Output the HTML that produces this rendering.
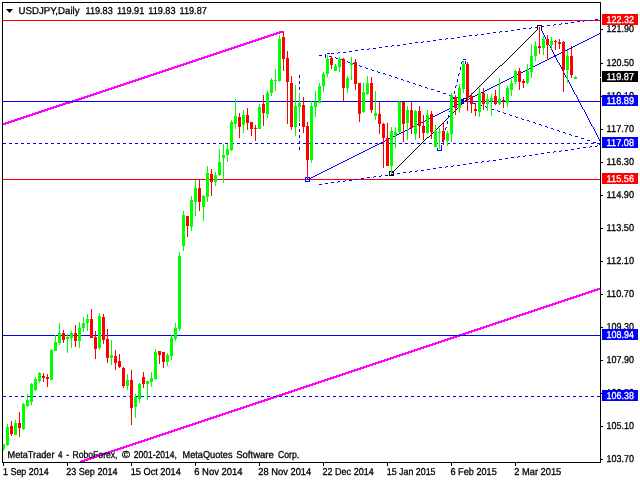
<!DOCTYPE html>
<html><head><meta charset="utf-8"><title>USDJPY,Daily</title>
<style>html,body{margin:0;padding:0;background:#fff;}body{width:640px;height:480px;overflow:hidden;}svg{display:block}text{font-family:"Liberation Sans",sans-serif;font-size:10px;fill:#000;stroke-width:0.3px;text-rendering:geometricPrecision}</style>
</head><body>
<svg width="640" height="480" viewBox="0 0 640 480" shape-rendering="crispEdges">
<rect width="640" height="480" fill="#fff"/>
<defs><clipPath id="c"><rect x="3" y="3" width="597" height="459"/></clipPath></defs>
<g clip-path="url(#c)">
<path fill="#ff00ff" d="M279 31h5v1h-5zM276 32h8v1h-8zM273 33h7v1h-7zM270 34h7v1h-7zM267 35h7v1h-7zM264 36h7v1h-7zM261 37h7v1h-7zM258 38h7v1h-7zM255 39h7v1h-7zM252 40h7v1h-7zM249 41h7v1h-7zM246 42h7v1h-7zM243 43h7v1h-7zM240 44h7v1h-7zM237 45h7v1h-7zM234 46h7v1h-7zM231 47h7v1h-7zM228 48h7v1h-7zM225 49h7v1h-7zM222 50h7v1h-7zM219 51h7v1h-7zM216 52h7v1h-7zM213 53h7v1h-7zM210 54h7v1h-7zM207 55h7v1h-7zM204 56h7v1h-7zM201 57h7v1h-7zM198 58h7v1h-7zM195 59h7v1h-7zM192 60h7v1h-7zM189 61h7v1h-7zM186 62h7v1h-7zM183 63h7v1h-7zM180 64h7v1h-7zM177 65h7v1h-7zM174 66h7v1h-7zM171 67h7v1h-7zM168 68h7v1h-7zM165 69h7v1h-7zM162 70h7v1h-7zM159 71h7v1h-7zM156 72h7v1h-7zM153 73h7v1h-7zM150 74h7v1h-7zM147 75h7v1h-7zM144 76h7v1h-7zM141 77h7v1h-7zM138 78h7v1h-7zM135 79h7v1h-7zM132 80h7v1h-7zM129 81h7v1h-7zM126 82h7v1h-7zM123 83h7v1h-7zM120 84h7v1h-7zM117 85h7v1h-7zM114 86h7v1h-7zM111 87h7v1h-7zM108 88h7v1h-7zM105 89h7v1h-7zM102 90h7v1h-7zM99 91h7v1h-7zM96 92h7v1h-7zM93 93h7v1h-7zM90 94h7v1h-7zM87 95h7v1h-7zM84 96h7v1h-7zM81 97h7v1h-7zM78 98h7v1h-7zM75 99h7v1h-7zM72 100h7v1h-7zM69 101h7v1h-7zM65 102h8v1h-8zM62 103h8v1h-8zM59 104h7v1h-7zM56 105h7v1h-7zM53 106h7v1h-7zM50 107h7v1h-7zM47 108h7v1h-7zM44 109h7v1h-7zM41 110h7v1h-7zM38 111h7v1h-7zM35 112h7v1h-7zM32 113h7v1h-7zM29 114h7v1h-7zM26 115h7v1h-7zM23 116h7v1h-7zM20 117h7v1h-7zM17 118h7v1h-7zM14 119h7v1h-7zM11 120h7v1h-7zM8 121h7v1h-7zM5 122h7v1h-7zM2 123h7v1h-7zM2 124h4v1h-4z"/>
<path fill="#ff00ff" d="M597 288h4v1h-4zM594 289h7v1h-7zM591 290h7v1h-7zM588 291h7v1h-7zM585 292h7v1h-7zM582 293h7v1h-7zM579 294h7v1h-7zM576 295h7v1h-7zM573 296h7v1h-7zM570 297h7v1h-7zM567 298h7v1h-7zM564 299h7v1h-7zM561 300h7v1h-7zM558 301h7v1h-7zM555 302h7v1h-7zM552 303h7v1h-7zM549 304h7v1h-7zM546 305h7v1h-7zM543 306h7v1h-7zM540 307h7v1h-7zM537 308h7v1h-7zM534 309h7v1h-7zM531 310h7v1h-7zM528 311h7v1h-7zM525 312h7v1h-7zM522 313h7v1h-7zM519 314h7v1h-7zM516 315h7v1h-7zM513 316h7v1h-7zM510 317h7v1h-7zM507 318h7v1h-7zM504 319h7v1h-7zM501 320h7v1h-7zM498 321h7v1h-7zM495 322h7v1h-7zM492 323h7v1h-7zM489 324h7v1h-7zM486 325h7v1h-7zM483 326h7v1h-7zM480 327h7v1h-7zM477 328h7v1h-7zM474 329h7v1h-7zM471 330h7v1h-7zM468 331h7v1h-7zM465 332h7v1h-7zM462 333h7v1h-7zM459 334h7v1h-7zM456 335h7v1h-7zM453 336h7v1h-7zM450 337h7v1h-7zM447 338h7v1h-7zM444 339h7v1h-7zM441 340h7v1h-7zM438 341h7v1h-7zM435 342h7v1h-7zM432 343h7v1h-7zM429 344h7v1h-7zM426 345h7v1h-7zM423 346h7v1h-7zM420 347h7v1h-7zM417 348h7v1h-7zM414 349h7v1h-7zM411 350h7v1h-7zM408 351h7v1h-7zM405 352h7v1h-7zM402 353h7v1h-7zM399 354h7v1h-7zM396 355h7v1h-7zM393 356h7v1h-7zM390 357h7v1h-7zM387 358h7v1h-7zM384 359h7v1h-7zM381 360h7v1h-7zM378 361h7v1h-7zM375 362h7v1h-7zM372 363h7v1h-7zM369 364h7v1h-7zM366 365h7v1h-7zM363 366h7v1h-7zM360 367h7v1h-7zM357 368h7v1h-7zM354 369h7v1h-7zM351 370h7v1h-7zM348 371h7v1h-7zM345 372h7v1h-7zM342 373h7v1h-7zM339 374h7v1h-7zM336 375h7v1h-7zM333 376h7v1h-7zM330 377h7v1h-7zM327 378h7v1h-7zM324 379h7v1h-7zM321 380h7v1h-7zM318 381h7v1h-7zM315 382h7v1h-7zM312 383h7v1h-7zM309 384h7v1h-7zM306 385h7v1h-7zM303 386h7v1h-7zM300 387h7v1h-7zM297 388h7v1h-7zM294 389h7v1h-7zM291 390h7v1h-7zM288 391h7v1h-7zM285 392h7v1h-7zM282 393h7v1h-7zM279 394h7v1h-7zM276 395h7v1h-7zM273 396h7v1h-7zM270 397h7v1h-7zM267 398h7v1h-7zM264 399h7v1h-7zM261 400h7v1h-7zM258 401h7v1h-7zM255 402h7v1h-7zM252 403h7v1h-7zM249 404h7v1h-7zM246 405h7v1h-7zM243 406h7v1h-7zM240 407h7v1h-7zM237 408h7v1h-7zM234 409h7v1h-7zM231 410h7v1h-7zM228 411h7v1h-7zM225 412h7v1h-7zM222 413h7v1h-7zM219 414h7v1h-7zM216 415h7v1h-7zM213 416h7v1h-7zM210 417h7v1h-7zM207 418h7v1h-7zM204 419h7v1h-7zM201 420h7v1h-7zM198 421h7v1h-7zM195 422h7v1h-7zM192 423h7v1h-7zM189 424h7v1h-7zM186 425h7v1h-7zM183 426h7v1h-7zM180 427h7v1h-7zM177 428h7v1h-7zM174 429h7v1h-7zM171 430h7v1h-7zM168 431h7v1h-7zM165 432h7v1h-7zM162 433h7v1h-7zM159 434h7v1h-7zM156 435h7v1h-7zM153 436h7v1h-7zM150 437h7v1h-7zM147 438h7v1h-7zM144 439h7v1h-7zM141 440h7v1h-7zM138 441h7v1h-7zM135 442h7v1h-7zM132 443h7v1h-7zM129 444h7v1h-7zM126 445h7v1h-7zM123 446h7v1h-7zM120 447h7v1h-7zM117 448h7v1h-7zM114 449h7v1h-7zM111 450h7v1h-7zM108 451h7v1h-7zM105 452h7v1h-7zM102 453h7v1h-7zM99 454h7v1h-7zM96 455h7v1h-7zM93 456h7v1h-7zM90 457h7v1h-7zM87 458h7v1h-7zM84 459h7v1h-7zM81 460h7v1h-7zM80 461h5v1h-5zM80 462h2v1h-2z"/>
<path fill="#0000ff" d="M461 100h2v1h-2zM461 101h3v1h-3zM461 102h3v1h-3zM461 103h3v1h-3z"/>
<path fill="#000" d="M537 29h1v1h-1zM536 30h1v1h-1zM535 31h1v1h-1zM534 32h1v1h-1zM533 33h1v1h-1zM532 34h1v1h-1zM531 35h1v1h-1zM530 36h1v1h-1zM529 37h1v1h-1zM528 38h1v1h-1zM527 39h1v1h-1zM526 40h1v1h-1zM525 41h1v1h-1zM524 42h1v1h-1zM523 43h1v1h-1zM522 44h1v1h-1zM521 45h1v1h-1zM520 46h1v1h-1zM519 47h1v1h-1zM518 48h1v1h-1zM517 49h1v1h-1zM516 50h1v1h-1zM515 51h1v1h-1zM514 52h1v1h-1zM513 53h1v1h-1zM512 54h1v1h-1zM511 55h1v1h-1zM510 56h1v1h-1zM509 57h1v1h-1zM508 58h1v1h-1zM507 59h1v1h-1zM506 60h1v1h-1zM505 61h1v1h-1zM504 62h1v1h-1zM503 63h1v1h-1zM502 64h1v1h-1zM500 65h2v1h-2zM499 66h1v1h-1zM498 67h1v1h-1zM497 68h1v1h-1zM496 69h1v1h-1zM495 70h1v1h-1zM494 71h1v1h-1zM493 72h1v1h-1zM492 73h1v1h-1zM491 74h1v1h-1zM490 75h1v1h-1zM489 76h1v1h-1zM488 77h1v1h-1zM487 78h1v1h-1zM486 79h1v1h-1zM485 80h1v1h-1zM484 81h1v1h-1zM483 82h1v1h-1zM482 83h1v1h-1zM481 84h1v1h-1zM480 85h1v1h-1zM479 86h1v1h-1zM478 87h1v1h-1zM477 88h1v1h-1zM476 89h1v1h-1zM475 90h1v1h-1zM474 91h1v1h-1zM473 92h1v1h-1zM472 93h1v1h-1zM471 94h1v1h-1zM470 95h1v1h-1zM469 96h1v1h-1zM468 97h1v1h-1zM467 98h1v1h-1zM466 99h1v1h-1zM465 100h1v1h-1zM464 101h1v1h-1zM463 102h1v1h-1zM462 103h1v1h-1zM461 104h1v1h-1zM460 105h1v1h-1zM459 106h1v1h-1zM458 107h1v1h-1zM457 108h1v1h-1zM456 109h1v1h-1zM455 110h1v1h-1zM454 111h1v1h-1zM453 112h1v1h-1zM452 113h1v1h-1zM451 114h1v1h-1zM450 115h1v1h-1zM449 116h1v1h-1zM448 117h1v1h-1zM447 118h1v1h-1zM446 119h1v1h-1zM445 120h1v1h-1zM444 121h1v1h-1zM443 122h1v1h-1zM442 123h1v1h-1zM441 124h1v1h-1zM440 125h1v1h-1zM439 126h1v1h-1zM438 127h1v1h-1zM437 128h1v1h-1zM436 129h1v1h-1zM435 130h1v1h-1zM434 131h1v1h-1zM433 132h1v1h-1zM432 133h1v1h-1zM431 134h1v1h-1zM430 135h1v1h-1zM429 136h1v1h-1zM427 137h2v1h-2zM426 138h1v1h-1zM425 139h1v1h-1zM424 140h1v1h-1zM423 141h1v1h-1zM422 142h1v1h-1zM421 143h1v1h-1zM420 144h1v1h-1zM419 145h1v1h-1zM418 146h1v1h-1zM417 147h1v1h-1zM416 148h1v1h-1zM415 149h1v1h-1zM414 150h1v1h-1zM413 151h1v1h-1zM412 152h1v1h-1zM411 153h1v1h-1zM410 154h1v1h-1zM409 155h1v1h-1zM408 156h1v1h-1zM407 157h1v1h-1zM406 158h1v1h-1zM405 159h1v1h-1zM404 160h1v1h-1zM403 161h1v1h-1zM402 162h1v1h-1zM401 163h1v1h-1zM400 164h1v1h-1zM399 165h1v1h-1zM398 166h1v1h-1zM397 167h1v1h-1zM396 168h1v1h-1zM395 169h1v1h-1zM394 170h1v1h-1zM393 171h1v1h-1zM392 172h1v1h-1zM391 173h1v1h-1z"/>
<path fill="#000" d="M389 171h5v1h-5zM389 172h1v1h-1zM393 172h1v1h-1zM389 173h1v1h-1zM393 173h1v1h-1zM389 174h1v1h-1zM393 174h1v1h-1zM389 175h5v1h-5z"/>
<path fill="#000" d="M463 98h5v1h-5zM463 99h1v1h-1zM467 99h1v1h-1zM463 100h1v1h-1zM467 100h1v1h-1z"/>
<path fill="#000" d="M537 25h5v1h-5zM537 26h1v1h-1zM541 26h1v1h-1zM537 27h1v1h-1zM541 27h1v1h-1zM537 28h1v1h-1zM541 28h1v1h-1zM537 29h1v1h-1zM541 29h1v1h-1z"/>
<rect x="3" y="20" width="597" height="1" fill="#ff0000"/>
<rect x="3" y="179" width="597" height="1" fill="#ff0000"/>
<rect x="3" y="101" width="597" height="1" fill="#0000ff"/>
<rect x="3" y="335" width="597" height="1" fill="#0000ff"/>
<path fill="#0000ff" d="M3 143h3v1h-3zM9 143h3v1h-3zM15 143h3v1h-3zM21 143h3v1h-3zM27 143h3v1h-3zM33 143h3v1h-3zM39 143h3v1h-3zM45 143h3v1h-3zM51 143h3v1h-3zM57 143h3v1h-3zM63 143h3v1h-3zM69 143h3v1h-3zM75 143h3v1h-3zM81 143h3v1h-3zM87 143h3v1h-3zM93 143h3v1h-3zM99 143h3v1h-3zM105 143h3v1h-3zM111 143h3v1h-3zM117 143h3v1h-3zM123 143h3v1h-3zM129 143h3v1h-3zM135 143h3v1h-3zM141 143h3v1h-3zM147 143h3v1h-3zM153 143h3v1h-3zM159 143h3v1h-3zM165 143h3v1h-3zM171 143h3v1h-3zM177 143h3v1h-3zM183 143h3v1h-3zM189 143h3v1h-3zM195 143h3v1h-3zM201 143h3v1h-3zM207 143h3v1h-3zM213 143h3v1h-3zM219 143h3v1h-3zM225 143h3v1h-3zM231 143h3v1h-3zM237 143h3v1h-3zM243 143h3v1h-3zM249 143h3v1h-3zM255 143h3v1h-3zM261 143h3v1h-3zM267 143h3v1h-3zM273 143h3v1h-3zM279 143h3v1h-3zM285 143h3v1h-3zM291 143h3v1h-3zM297 143h3v1h-3zM303 143h3v1h-3zM309 143h3v1h-3zM315 143h3v1h-3zM321 143h3v1h-3zM327 143h3v1h-3zM333 143h3v1h-3zM339 143h3v1h-3zM345 143h3v1h-3zM351 143h3v1h-3zM357 143h3v1h-3zM363 143h3v1h-3zM369 143h3v1h-3zM375 143h3v1h-3zM381 143h3v1h-3zM387 143h3v1h-3zM393 143h3v1h-3zM399 143h3v1h-3zM405 143h3v1h-3zM411 143h3v1h-3zM417 143h3v1h-3zM423 143h3v1h-3zM429 143h3v1h-3zM435 143h3v1h-3zM441 143h3v1h-3zM447 143h3v1h-3zM453 143h3v1h-3zM459 143h3v1h-3zM465 143h3v1h-3zM471 143h3v1h-3zM477 143h3v1h-3zM483 143h3v1h-3zM489 143h3v1h-3zM495 143h3v1h-3zM501 143h3v1h-3zM507 143h3v1h-3zM513 143h3v1h-3zM519 143h3v1h-3zM525 143h3v1h-3zM531 143h3v1h-3zM537 143h3v1h-3zM543 143h3v1h-3zM549 143h3v1h-3zM555 143h3v1h-3zM561 143h3v1h-3zM567 143h3v1h-3zM573 143h3v1h-3zM579 143h3v1h-3zM585 143h3v1h-3zM591 143h3v1h-3zM597 143h3v1h-3z"/>
<path fill="#0000ff" d="M3 396h3v1h-3zM9 396h3v1h-3zM15 396h3v1h-3zM21 396h3v1h-3zM27 396h3v1h-3zM33 396h3v1h-3zM39 396h3v1h-3zM45 396h3v1h-3zM51 396h3v1h-3zM57 396h3v1h-3zM63 396h3v1h-3zM69 396h3v1h-3zM75 396h3v1h-3zM81 396h3v1h-3zM87 396h3v1h-3zM93 396h3v1h-3zM99 396h3v1h-3zM105 396h3v1h-3zM111 396h3v1h-3zM117 396h3v1h-3zM123 396h3v1h-3zM129 396h3v1h-3zM135 396h3v1h-3zM141 396h3v1h-3zM147 396h3v1h-3zM153 396h3v1h-3zM159 396h3v1h-3zM165 396h3v1h-3zM171 396h3v1h-3zM177 396h3v1h-3zM183 396h3v1h-3zM189 396h3v1h-3zM195 396h3v1h-3zM201 396h3v1h-3zM207 396h3v1h-3zM213 396h3v1h-3zM219 396h3v1h-3zM225 396h3v1h-3zM231 396h3v1h-3zM237 396h3v1h-3zM243 396h3v1h-3zM249 396h3v1h-3zM255 396h3v1h-3zM261 396h3v1h-3zM267 396h3v1h-3zM273 396h3v1h-3zM279 396h3v1h-3zM285 396h3v1h-3zM291 396h3v1h-3zM297 396h3v1h-3zM303 396h3v1h-3zM309 396h3v1h-3zM315 396h3v1h-3zM321 396h3v1h-3zM327 396h3v1h-3zM333 396h3v1h-3zM339 396h3v1h-3zM345 396h3v1h-3zM351 396h3v1h-3zM357 396h3v1h-3zM363 396h3v1h-3zM369 396h3v1h-3zM375 396h3v1h-3zM381 396h3v1h-3zM387 396h3v1h-3zM393 396h3v1h-3zM399 396h3v1h-3zM405 396h3v1h-3zM411 396h3v1h-3zM417 396h3v1h-3zM423 396h3v1h-3zM429 396h3v1h-3zM435 396h3v1h-3zM441 396h3v1h-3zM447 396h3v1h-3zM453 396h3v1h-3zM459 396h3v1h-3zM465 396h3v1h-3zM471 396h3v1h-3zM477 396h3v1h-3zM483 396h3v1h-3zM489 396h3v1h-3zM495 396h3v1h-3zM501 396h3v1h-3zM507 396h3v1h-3zM513 396h3v1h-3zM519 396h3v1h-3zM525 396h3v1h-3zM531 396h3v1h-3zM537 396h3v1h-3zM543 396h3v1h-3zM549 396h3v1h-3zM555 396h3v1h-3zM561 396h3v1h-3zM567 396h3v1h-3zM573 396h3v1h-3zM579 396h3v1h-3zM585 396h3v1h-3zM591 396h3v1h-3zM597 396h3v1h-3z"/>
<path fill="#0000ff" d="M599 33h2v1h-2zM597 34h2v1h-2zM595 35h2v1h-2zM593 36h2v1h-2zM591 37h2v1h-2zM589 38h2v1h-2zM587 39h2v1h-2zM585 40h2v1h-2zM583 41h2v1h-2zM581 42h2v1h-2zM579 43h2v1h-2zM577 44h2v1h-2zM575 45h2v1h-2zM573 46h2v1h-2zM571 47h2v1h-2zM569 48h2v1h-2zM567 49h2v1h-2zM565 50h2v1h-2zM563 51h2v1h-2zM561 52h2v1h-2zM559 53h2v1h-2zM557 54h2v1h-2zM555 55h2v1h-2zM553 56h2v1h-2zM551 57h2v1h-2zM549 58h2v1h-2zM547 59h2v1h-2zM545 60h2v1h-2zM543 61h2v1h-2zM541 62h2v1h-2zM539 63h2v1h-2zM537 64h2v1h-2zM535 65h2v1h-2zM533 66h2v1h-2zM531 67h2v1h-2zM529 68h2v1h-2zM527 69h2v1h-2zM525 70h2v1h-2zM523 71h2v1h-2zM521 72h2v1h-2zM519 73h2v1h-2zM517 74h2v1h-2zM515 75h2v1h-2zM513 76h2v1h-2zM511 77h2v1h-2zM509 78h2v1h-2zM507 79h2v1h-2zM505 80h2v1h-2zM503 81h2v1h-2zM501 82h2v1h-2zM499 83h2v1h-2zM497 84h2v1h-2zM495 85h2v1h-2zM493 86h2v1h-2zM491 87h2v1h-2zM489 88h2v1h-2zM487 89h2v1h-2zM485 90h2v1h-2zM483 91h2v1h-2zM481 92h2v1h-2zM479 93h2v1h-2zM477 94h2v1h-2zM475 95h2v1h-2zM473 96h2v1h-2zM471 97h2v1h-2zM469 98h2v1h-2zM467 99h2v1h-2zM465 100h2v1h-2zM463 101h2v1h-2zM461 102h2v1h-2zM459 103h2v1h-2zM457 104h2v1h-2zM455 105h2v1h-2zM453 106h2v1h-2zM451 107h2v1h-2zM449 108h2v1h-2zM447 109h2v1h-2zM445 110h2v1h-2zM443 111h2v1h-2zM441 112h2v1h-2zM439 113h2v1h-2zM437 114h2v1h-2zM435 115h2v1h-2zM433 116h2v1h-2zM431 117h2v1h-2zM429 118h2v1h-2zM427 119h2v1h-2zM425 120h2v1h-2zM423 121h2v1h-2zM421 122h2v1h-2zM419 123h2v1h-2zM417 124h2v1h-2zM415 125h2v1h-2zM413 126h2v1h-2zM411 127h2v1h-2zM409 128h2v1h-2zM407 129h2v1h-2zM405 130h2v1h-2zM403 131h2v1h-2zM401 132h2v1h-2zM399 133h2v1h-2zM397 134h2v1h-2zM395 135h2v1h-2zM393 136h2v1h-2zM391 137h2v1h-2zM389 138h2v1h-2zM387 139h2v1h-2zM385 140h2v1h-2zM383 141h2v1h-2zM381 142h2v1h-2zM379 143h2v1h-2zM377 144h2v1h-2zM375 145h2v1h-2zM373 146h2v1h-2zM371 147h2v1h-2zM369 148h2v1h-2zM367 149h2v1h-2zM365 150h2v1h-2zM363 151h2v1h-2zM361 152h2v1h-2zM359 153h2v1h-2zM357 154h2v1h-2zM355 155h2v1h-2zM353 156h2v1h-2zM351 157h2v1h-2zM349 158h2v1h-2zM347 159h2v1h-2zM345 160h2v1h-2zM343 161h2v1h-2zM341 162h2v1h-2zM339 163h2v1h-2zM337 164h2v1h-2zM335 165h2v1h-2zM333 166h2v1h-2zM331 167h2v1h-2zM329 168h2v1h-2zM327 169h2v1h-2zM325 170h2v1h-2zM323 171h2v1h-2zM321 172h2v1h-2zM319 173h2v1h-2zM317 174h2v1h-2zM315 175h2v1h-2zM313 176h2v1h-2zM311 177h2v1h-2zM309 178h2v1h-2zM307 179h2v1h-2z"/>
<path fill="#0000ff" d="M305 177h5v1h-5zM305 178h1v1h-1zM309 178h1v1h-1zM305 179h1v1h-1zM309 179h1v1h-1zM305 180h1v1h-1zM309 180h1v1h-1zM305 181h5v1h-5z"/>
<path fill="#0000ff" d="M541 30h1v1h-1zM542 31h1v1h-1zM542 32h1v1h-1zM543 33h1v1h-1zM543 34h1v1h-1zM544 35h1v1h-1zM544 36h1v1h-1zM545 37h1v1h-1zM545 38h1v1h-1zM546 39h1v1h-1zM546 40h1v1h-1zM547 41h1v1h-1zM547 42h1v1h-1zM548 43h1v1h-1zM548 44h1v1h-1zM549 45h1v1h-1zM550 46h1v1h-1zM550 47h1v1h-1zM551 48h1v1h-1zM551 49h1v1h-1zM552 50h1v1h-1zM552 51h1v1h-1zM553 52h1v1h-1zM553 53h1v1h-1zM554 54h1v1h-1zM554 55h1v1h-1zM555 56h1v1h-1zM555 57h1v1h-1zM556 58h1v1h-1zM556 59h1v1h-1zM557 60h1v1h-1zM557 61h1v1h-1zM558 62h1v1h-1zM559 63h1v1h-1zM559 64h1v1h-1zM560 65h1v1h-1zM560 66h1v1h-1zM561 67h1v1h-1zM561 68h1v1h-1zM562 69h1v1h-1zM562 70h1v1h-1zM563 71h1v1h-1zM563 72h1v1h-1zM564 73h1v1h-1zM564 74h1v1h-1zM565 75h1v1h-1zM565 76h1v1h-1zM566 77h1v1h-1zM567 78h1v1h-1zM567 79h1v1h-1zM568 80h1v1h-1zM568 81h1v1h-1zM569 82h1v1h-1zM569 83h1v1h-1zM570 84h1v1h-1zM570 85h1v1h-1zM571 86h1v1h-1zM571 87h1v1h-1zM572 88h1v1h-1zM572 89h1v1h-1zM573 90h1v1h-1zM573 91h1v1h-1zM574 92h1v1h-1zM574 93h1v1h-1zM575 94h1v1h-1zM576 95h1v1h-1zM576 96h1v1h-1zM577 97h1v1h-1zM577 98h1v1h-1zM578 99h1v1h-1zM578 100h1v1h-1zM579 101h1v1h-1zM579 102h1v1h-1zM580 103h1v1h-1zM580 104h1v1h-1zM581 105h1v1h-1zM581 106h1v1h-1zM582 107h1v1h-1zM582 108h1v1h-1zM583 109h1v1h-1zM584 110h1v1h-1zM584 111h1v1h-1zM585 112h1v1h-1zM585 113h1v1h-1zM586 114h1v1h-1zM586 115h1v1h-1zM587 116h1v1h-1zM587 117h1v1h-1zM588 118h1v1h-1zM588 119h1v1h-1zM589 120h1v1h-1zM589 121h1v1h-1zM590 122h1v1h-1zM590 123h1v1h-1zM591 124h1v1h-1zM591 125h1v1h-1zM592 126h1v1h-1zM593 127h1v1h-1zM593 128h1v1h-1zM594 129h1v1h-1zM594 130h1v1h-1zM595 131h1v1h-1zM595 132h1v1h-1zM596 133h1v1h-1zM596 134h1v1h-1zM597 135h1v1h-1zM597 136h1v1h-1zM598 137h1v1h-1zM598 138h1v1h-1zM599 139h1v1h-1zM599 140h1v1h-1zM600 141h1v1h-1z"/>
<path fill="#0000ff" d="M595 19h3v1h-3zM584 20h2v1h-2zM589 20h3v1h-3zM577 21h3v1h-3zM583 21h1v1h-1zM571 22h3v1h-3zM561 23h1v1h-1zM565 23h3v1h-3zM554 24h2v1h-2zM559 24h2v1h-2zM547 25h3v1h-3zM553 25h1v1h-1zM541 26h3v1h-3zM531 27h1v1h-1zM535 27h3v1h-3zM523 28h3v1h-3zM529 28h2v1h-2zM517 29h3v1h-3zM511 30h3v1h-3zM500 31h2v1h-2zM505 31h3v1h-3zM493 32h3v1h-3zM499 32h1v1h-1zM487 33h3v1h-3zM477 34h1v1h-1zM481 34h3v1h-3zM469 35h3v1h-3zM475 35h2v1h-2zM463 36h3v1h-3zM457 37h3v1h-3zM446 38h2v1h-2zM451 38h3v1h-3zM439 39h3v1h-3zM445 39h1v1h-1zM433 40h3v1h-3zM423 41h1v1h-1zM427 41h3v1h-3zM415 42h3v1h-3zM421 42h2v1h-2zM409 43h3v1h-3zM403 44h3v1h-3zM392 45h2v1h-2zM397 45h3v1h-3zM385 46h3v1h-3zM391 46h1v1h-1zM379 47h3v1h-3zM369 48h1v1h-1zM373 48h3v1h-3zM361 49h3v1h-3zM367 49h2v1h-2zM355 50h3v1h-3zM349 51h3v1h-3zM338 52h2v1h-2zM343 52h3v1h-3zM331 53h3v1h-3zM337 53h1v1h-1z"/>
<path fill="#0000ff" d="M329 56h3v1h-3zM335 57h1v1h-1zM336 58h2v1h-2zM341 59h1v1h-1zM342 60h2v1h-2zM347 61h1v1h-1zM348 62h2v1h-2zM353 63h1v1h-1zM354 64h2v1h-2zM359 65h1v1h-1zM360 66h2v1h-2zM365 67h1v1h-1zM366 68h2v1h-2zM371 69h1v1h-1zM372 70h2v1h-2zM377 71h1v1h-1zM378 72h2v1h-2zM383 73h2v1h-2zM385 74h1v1h-1zM389 75h2v1h-2zM391 76h1v1h-1zM395 77h2v1h-2zM397 78h1v1h-1zM401 79h2v1h-2zM403 80h1v1h-1zM407 81h2v1h-2zM409 82h1v1h-1zM413 83h2v1h-2zM415 84h1v1h-1zM419 85h2v1h-2zM421 86h1v1h-1zM425 87h2v1h-2zM427 88h1v1h-1zM431 89h3v1h-3zM437 91h3v1h-3zM443 93h3v1h-3zM449 95h3v1h-3zM455 97h3v1h-3zM461 99h3v1h-3zM467 101h3v1h-3zM473 103h3v1h-3zM479 104h1v1h-1zM480 105h2v1h-2zM485 106h1v1h-1zM486 107h2v1h-2zM491 108h1v1h-1zM492 109h2v1h-2zM497 110h1v1h-1zM498 111h2v1h-2zM503 112h1v1h-1zM504 113h2v1h-2zM509 114h1v1h-1zM510 115h2v1h-2zM515 116h1v1h-1zM516 117h2v1h-2zM521 118h1v1h-1zM522 119h2v1h-2zM527 120h2v1h-2zM529 121h1v1h-1zM533 122h2v1h-2zM535 123h1v1h-1zM539 124h2v1h-2zM541 125h1v1h-1zM545 126h2v1h-2zM547 127h1v1h-1zM551 128h2v1h-2zM553 129h1v1h-1zM557 130h2v1h-2zM559 131h1v1h-1zM563 132h2v1h-2zM565 133h1v1h-1zM569 134h2v1h-2zM571 135h1v1h-1zM575 136h3v1h-3zM581 138h3v1h-3zM587 140h3v1h-3zM593 142h3v1h-3zM599 144h2v1h-2z"/>
<path fill="#0000ff" d="M597 145h1v1h-1zM590 146h2v1h-2zM595 146h2v1h-2zM583 147h3v1h-3zM589 147h1v1h-1zM577 148h3v1h-3zM571 149h3v1h-3zM561 150h1v1h-1zM565 150h3v1h-3zM554 151h2v1h-2zM559 151h2v1h-2zM547 152h3v1h-3zM553 152h1v1h-1zM541 153h3v1h-3zM535 154h3v1h-3zM525 155h1v1h-1zM529 155h3v1h-3zM518 156h2v1h-2zM523 156h2v1h-2zM511 157h3v1h-3zM517 157h1v1h-1zM505 158h3v1h-3zM499 159h3v1h-3zM489 160h1v1h-1zM493 160h3v1h-3zM482 161h2v1h-2zM487 161h2v1h-2zM475 162h3v1h-3zM481 162h1v1h-1zM469 163h3v1h-3zM463 164h3v1h-3zM453 165h1v1h-1zM457 165h3v1h-3zM446 166h2v1h-2zM451 166h2v1h-2zM439 167h3v1h-3zM445 167h1v1h-1zM433 168h3v1h-3zM427 169h3v1h-3zM417 170h1v1h-1zM421 170h3v1h-3zM410 171h2v1h-2zM415 171h2v1h-2zM403 172h3v1h-3zM409 172h1v1h-1zM397 173h3v1h-3zM391 174h3v1h-3zM381 175h1v1h-1zM385 175h3v1h-3zM374 176h2v1h-2zM379 176h2v1h-2zM367 177h3v1h-3zM373 177h1v1h-1zM361 178h3v1h-3zM355 179h3v1h-3zM345 180h1v1h-1zM349 180h3v1h-3zM338 181h2v1h-2zM343 181h2v1h-2zM331 182h3v1h-3zM337 182h1v1h-1zM325 183h3v1h-3zM319 184h3v1h-3z"/>
<path fill="#0000ff" d="M327 53h3v1h-3zM325 54h1v1h-1zM319 55h3v1h-3zM325 55h1v1h-1zM325 56h1v1h-1zM325 57h1v1h-1z"/>
<path fill="#0000ff" d="M299 75h1v1h-1zM299 76h1v1h-1zM299 77h1v1h-1zM299 81h1v1h-1zM299 82h1v1h-1zM299 83h1v1h-1zM299 87h1v1h-1zM299 88h1v1h-1zM299 89h1v1h-1zM299 93h1v1h-1zM299 94h1v1h-1zM299 95h1v1h-1zM299 99h1v1h-1zM299 100h1v1h-1zM299 101h1v1h-1zM299 105h1v1h-1zM299 106h1v1h-1zM299 107h1v1h-1zM299 111h1v1h-1zM299 112h1v1h-1zM299 113h1v1h-1zM299 117h1v1h-1zM299 118h1v1h-1zM299 119h1v1h-1zM299 123h1v1h-1zM299 124h1v1h-1zM299 125h1v1h-1zM299 129h1v1h-1zM299 130h1v1h-1zM299 131h1v1h-1zM299 135h1v1h-1zM299 136h1v1h-1zM299 137h1v1h-1zM299 141h1v1h-1zM299 142h1v1h-1zM299 143h1v1h-1zM299 147h1v1h-1zM299 148h1v1h-1zM299 149h1v1h-1z"/>
<path fill="#0000ff" d="M462 61h1v1h-1zM461 62h1v1h-1zM461 63h1v1h-1zM460 67h1v1h-1zM460 68h1v1h-1zM460 69h1v1h-1zM459 73h1v1h-1zM458 74h1v1h-1zM458 75h1v1h-1zM457 79h1v1h-1zM457 80h1v1h-1zM457 81h1v1h-1zM456 85h1v1h-1zM455 86h1v1h-1zM455 87h1v1h-1zM454 91h1v1h-1zM454 92h1v1h-1zM454 93h1v1h-1zM453 97h1v1h-1zM453 98h1v1h-1zM452 99h1v1h-1zM451 103h1v1h-1zM451 104h1v1h-1zM451 105h1v1h-1zM450 109h1v1h-1zM450 110h1v1h-1zM449 111h1v1h-1zM448 115h1v1h-1zM448 116h1v1h-1zM448 117h1v1h-1zM447 121h1v1h-1zM447 122h1v1h-1zM447 123h1v1h-1zM446 127h1v1h-1zM445 128h1v1h-1zM445 129h1v1h-1zM444 133h1v1h-1zM444 134h1v1h-1zM444 135h1v1h-1zM443 139h1v1h-1zM442 140h1v1h-1zM442 141h1v1h-1zM441 145h1v1h-1zM441 146h1v1h-1zM441 147h1v1h-1z"/>
<path fill="#0000ff" d="M463 59h3v1h-3zM465 61h1v1h-1zM465 62h1v1h-1zM465 63h1v1h-1zM437 148h1v1h-1zM441 148h1v1h-1zM437 149h1v1h-1zM441 149h1v1h-1zM437 150h5v1h-5z"/>
<rect x="3" y="444" width="1" height="7" fill="#00ff00"/><rect x="2" y="444" width="3" height="5" fill="#00ff00"/>
<rect x="7" y="424" width="1" height="22" fill="#00ff00"/><rect x="6" y="427" width="3" height="18" fill="#00ff00"/>
<rect x="11" y="421" width="1" height="15" fill="#ff0000"/><rect x="10" y="426" width="3" height="8" fill="#ff0000"/>
<rect x="15" y="420" width="1" height="15" fill="#00ff00"/><rect x="14" y="423" width="3" height="12" fill="#00ff00"/>
<rect x="19" y="412" width="1" height="25" fill="#ff0000"/><rect x="18" y="423" width="3" height="5" fill="#ff0000"/>
<rect x="23" y="403" width="1" height="27" fill="#00ff00"/><rect x="22" y="404" width="3" height="25" fill="#00ff00"/>
<rect x="27" y="394" width="1" height="13" fill="#00ff00"/><rect x="26" y="400" width="3" height="6" fill="#00ff00"/>
<rect x="31" y="383" width="1" height="22" fill="#00ff00"/><rect x="30" y="384" width="3" height="18" fill="#00ff00"/>
<rect x="35" y="377" width="1" height="14" fill="#00ff00"/><rect x="34" y="379" width="3" height="11" fill="#00ff00"/>
<rect x="39" y="372" width="1" height="11" fill="#00ff00"/><rect x="38" y="373" width="3" height="8" fill="#00ff00"/>
<rect x="43" y="373" width="1" height="9" fill="#ff0000"/><rect x="42" y="376" width="3" height="2" fill="#ff0000"/>
<rect x="47" y="374" width="1" height="13" fill="#ff0000"/><rect x="46" y="377" width="3" height="2" fill="#ff0000"/>
<rect x="51" y="349" width="1" height="31" fill="#00ff00"/><rect x="50" y="350" width="3" height="30" fill="#00ff00"/>
<rect x="55" y="335" width="1" height="16" fill="#00ff00"/><rect x="54" y="342" width="3" height="9" fill="#00ff00"/>
<rect x="59" y="323" width="1" height="22" fill="#00ff00"/><rect x="58" y="333" width="3" height="10" fill="#00ff00"/>
<rect x="63" y="330" width="1" height="13" fill="#ff0000"/><rect x="62" y="333" width="3" height="7" fill="#ff0000"/>
<rect x="67" y="334" width="1" height="19" fill="#00ff00"/><rect x="66" y="337" width="3" height="2" fill="#00ff00"/>
<rect x="71" y="331" width="1" height="17" fill="#00ff00"/><rect x="70" y="333" width="3" height="5" fill="#00ff00"/>
<rect x="75" y="325" width="1" height="22" fill="#ff0000"/><rect x="74" y="333" width="3" height="8" fill="#ff0000"/>
<rect x="79" y="322" width="1" height="26" fill="#00ff00"/><rect x="78" y="328" width="3" height="13" fill="#00ff00"/>
<rect x="83" y="317" width="1" height="15" fill="#00ff00"/><rect x="82" y="323" width="3" height="5" fill="#00ff00"/>
<rect x="87" y="314" width="1" height="17" fill="#00ff00"/><rect x="86" y="319" width="3" height="4" fill="#00ff00"/>
<rect x="91" y="309" width="1" height="29" fill="#ff0000"/><rect x="90" y="319" width="3" height="19" fill="#ff0000"/>
<rect x="95" y="331" width="1" height="28" fill="#ff0000"/><rect x="94" y="337" width="3" height="12" fill="#ff0000"/>
<rect x="99" y="313" width="1" height="37" fill="#00ff00"/><rect x="98" y="316" width="3" height="32" fill="#00ff00"/>
<rect x="103" y="314" width="1" height="30" fill="#ff0000"/><rect x="102" y="317" width="3" height="23" fill="#ff0000"/>
<rect x="107" y="329" width="1" height="34" fill="#ff0000"/><rect x="106" y="339" width="3" height="19" fill="#ff0000"/>
<rect x="111" y="340" width="1" height="25" fill="#00ff00"/><rect x="110" y="355" width="3" height="3" fill="#00ff00"/>
<rect x="115" y="350" width="1" height="20" fill="#ff0000"/><rect x="114" y="356" width="3" height="7" fill="#ff0000"/>
<rect x="119" y="354" width="1" height="14" fill="#ff0000"/><rect x="118" y="361" width="3" height="6" fill="#ff0000"/>
<rect x="123" y="367" width="1" height="21" fill="#ff0000"/><rect x="122" y="368" width="3" height="18" fill="#ff0000"/>
<rect x="127" y="374" width="1" height="16" fill="#00ff00"/><rect x="126" y="380" width="3" height="6" fill="#00ff00"/>
<rect x="131" y="370" width="1" height="55" fill="#ff0000"/><rect x="130" y="380" width="3" height="28" fill="#ff0000"/>
<rect x="135" y="394" width="1" height="24" fill="#00ff00"/><rect x="134" y="397" width="3" height="10" fill="#00ff00"/>
<rect x="139" y="383" width="1" height="20" fill="#00ff00"/><rect x="138" y="384" width="3" height="15" fill="#00ff00"/>
<rect x="143" y="372" width="1" height="16" fill="#ff0000"/><rect x="142" y="377" width="3" height="7" fill="#ff0000"/>
<rect x="147" y="381" width="1" height="19" fill="#00ff00"/><rect x="146" y="381" width="3" height="3" fill="#00ff00"/>
<rect x="151" y="372" width="1" height="15" fill="#00ff00"/><rect x="150" y="378" width="3" height="4" fill="#00ff00"/>
<rect x="155" y="349" width="1" height="31" fill="#00ff00"/><rect x="154" y="352" width="3" height="27" fill="#00ff00"/>
<rect x="159" y="351" width="1" height="13" fill="#ff0000"/><rect x="158" y="351" width="3" height="4" fill="#ff0000"/>
<rect x="163" y="352" width="1" height="16" fill="#ff0000"/><rect x="162" y="352" width="3" height="10" fill="#ff0000"/>
<rect x="167" y="353" width="1" height="13" fill="#00ff00"/><rect x="166" y="355" width="3" height="7" fill="#00ff00"/>
<rect x="171" y="335" width="1" height="25" fill="#00ff00"/><rect x="170" y="338" width="3" height="18" fill="#00ff00"/>
<rect x="175" y="323" width="1" height="18" fill="#00ff00"/><rect x="174" y="328" width="3" height="11" fill="#00ff00"/>
<rect x="179" y="252" width="1" height="79" fill="#00ff00"/><rect x="178" y="256" width="3" height="73" fill="#00ff00"/>
<rect x="183" y="211" width="1" height="40" fill="#00ff00"/><rect x="182" y="215" width="3" height="31" fill="#00ff00"/>
<rect x="187" y="216" width="1" height="21" fill="#ff0000"/><rect x="186" y="216" width="3" height="10" fill="#ff0000"/>
<rect x="191" y="196" width="1" height="35" fill="#00ff00"/><rect x="190" y="200" width="3" height="27" fill="#00ff00"/>
<rect x="195" y="180" width="1" height="36" fill="#00ff00"/><rect x="194" y="188" width="3" height="14" fill="#00ff00"/>
<rect x="199" y="180" width="1" height="31" fill="#ff0000"/><rect x="198" y="188" width="3" height="14" fill="#ff0000"/>
<rect x="203" y="195" width="1" height="26" fill="#00ff00"/><rect x="202" y="196" width="3" height="11" fill="#00ff00"/>
<rect x="207" y="166" width="1" height="36" fill="#00ff00"/><rect x="206" y="173" width="3" height="24" fill="#00ff00"/>
<rect x="211" y="169" width="1" height="27" fill="#ff0000"/><rect x="210" y="174" width="3" height="8" fill="#ff0000"/>
<rect x="215" y="172" width="1" height="14" fill="#00ff00"/><rect x="214" y="175" width="3" height="7" fill="#00ff00"/>
<rect x="219" y="149" width="1" height="27" fill="#00ff00"/><rect x="218" y="162" width="3" height="13" fill="#00ff00"/>
<rect x="223" y="144" width="1" height="39" fill="#00ff00"/><rect x="222" y="155" width="3" height="3" fill="#00ff00"/>
<rect x="227" y="144" width="1" height="18" fill="#00ff00"/><rect x="226" y="149" width="3" height="6" fill="#00ff00"/>
<rect x="231" y="120" width="1" height="31" fill="#00ff00"/><rect x="230" y="122" width="3" height="28" fill="#00ff00"/>
<rect x="235" y="99" width="1" height="30" fill="#00ff00"/><rect x="234" y="116" width="3" height="8" fill="#00ff00"/>
<rect x="239" y="113" width="1" height="25" fill="#ff0000"/><rect x="238" y="117" width="3" height="10" fill="#ff0000"/>
<rect x="243" y="110" width="1" height="23" fill="#00ff00"/><rect x="242" y="115" width="3" height="10" fill="#00ff00"/>
<rect x="247" y="108" width="1" height="22" fill="#ff0000"/><rect x="246" y="115" width="3" height="8" fill="#ff0000"/>
<rect x="251" y="122" width="1" height="14" fill="#ff0000"/><rect x="250" y="122" width="3" height="7" fill="#ff0000"/>
<rect x="255" y="125" width="1" height="16" fill="#ff0000"/><rect x="254" y="128" width="3" height="1" fill="#ff0000"/>
<rect x="259" y="104" width="1" height="25" fill="#00ff00"/><rect x="258" y="107" width="3" height="22" fill="#00ff00"/>
<rect x="263" y="95" width="1" height="31" fill="#ff0000"/><rect x="262" y="104" width="3" height="9" fill="#ff0000"/>
<rect x="267" y="91" width="1" height="27" fill="#00ff00"/><rect x="266" y="93" width="3" height="21" fill="#00ff00"/>
<rect x="271" y="78" width="1" height="18" fill="#00ff00"/><rect x="270" y="80" width="3" height="13" fill="#00ff00"/>
<rect x="275" y="69" width="1" height="22" fill="#00ff00"/><rect x="274" y="80" width="3" height="1" fill="#00ff00"/>
<rect x="279" y="35" width="1" height="47" fill="#00ff00"/><rect x="278" y="39" width="3" height="42" fill="#00ff00"/>
<rect x="283" y="31" width="1" height="40" fill="#ff0000"/><rect x="282" y="37" width="3" height="22" fill="#ff0000"/>
<rect x="287" y="51" width="1" height="73" fill="#ff0000"/><rect x="286" y="58" width="3" height="24" fill="#ff0000"/>
<rect x="291" y="76" width="1" height="54" fill="#ff0000"/><rect x="290" y="83" width="3" height="44" fill="#ff0000"/>
<rect x="295" y="85" width="1" height="51" fill="#00ff00"/><rect x="294" y="106" width="3" height="21" fill="#00ff00"/>
<rect x="299" y="93" width="1" height="29" fill="#00ff00"/><rect x="298" y="103" width="3" height="4" fill="#00ff00"/>
<rect x="303" y="97" width="1" height="36" fill="#ff0000"/><rect x="302" y="105" width="3" height="22" fill="#ff0000"/>
<rect x="307" y="122" width="1" height="57" fill="#ff0000"/><rect x="306" y="126" width="3" height="34" fill="#ff0000"/>
<rect x="311" y="101" width="1" height="62" fill="#00ff00"/><rect x="310" y="106" width="3" height="54" fill="#00ff00"/>
<rect x="315" y="91" width="1" height="26" fill="#00ff00"/><rect x="314" y="102" width="3" height="5" fill="#00ff00"/>
<rect x="319" y="83" width="1" height="20" fill="#00ff00"/><rect x="318" y="86" width="3" height="17" fill="#00ff00"/>
<rect x="323" y="72" width="1" height="20" fill="#00ff00"/><rect x="322" y="74" width="3" height="12" fill="#00ff00"/>
<rect x="327" y="55" width="1" height="22" fill="#00ff00"/><rect x="326" y="59" width="3" height="15" fill="#00ff00"/>
<rect x="331" y="56" width="1" height="13" fill="#ff0000"/><rect x="330" y="58" width="3" height="7" fill="#ff0000"/>
<rect x="335" y="64" width="1" height="7" fill="#00ff00"/><rect x="334" y="66" width="3" height="5" fill="#00ff00"/>
<rect x="339" y="57" width="1" height="15" fill="#00ff00"/><rect x="338" y="59" width="3" height="8" fill="#00ff00"/>
<rect x="343" y="58" width="1" height="44" fill="#ff0000"/><rect x="342" y="59" width="3" height="29" fill="#ff0000"/>
<rect x="347" y="76" width="1" height="17" fill="#00ff00"/><rect x="346" y="78" width="3" height="10" fill="#00ff00"/>
<rect x="351" y="57" width="1" height="23" fill="#00ff00"/><rect x="350" y="63" width="3" height="2" fill="#00ff00"/>
<rect x="355" y="59" width="1" height="31" fill="#ff0000"/><rect x="354" y="62" width="3" height="22" fill="#ff0000"/>
<rect x="359" y="83" width="1" height="39" fill="#ff0000"/><rect x="358" y="83" width="3" height="31" fill="#ff0000"/>
<rect x="363" y="83" width="1" height="30" fill="#00ff00"/><rect x="362" y="92" width="3" height="20" fill="#00ff00"/>
<rect x="367" y="76" width="1" height="19" fill="#00ff00"/><rect x="366" y="83" width="3" height="11" fill="#00ff00"/>
<rect x="371" y="77" width="1" height="36" fill="#ff0000"/><rect x="370" y="83" width="3" height="27" fill="#ff0000"/>
<rect x="375" y="91" width="1" height="29" fill="#00ff00"/><rect x="374" y="113" width="3" height="3" fill="#00ff00"/>
<rect x="379" y="102" width="1" height="32" fill="#ff0000"/><rect x="378" y="114" width="3" height="10" fill="#ff0000"/>
<rect x="383" y="123" width="1" height="45" fill="#ff0000"/><rect x="382" y="124" width="3" height="14" fill="#ff0000"/>
<rect x="387" y="123" width="1" height="43" fill="#ff0000"/><rect x="386" y="138" width="3" height="28" fill="#ff0000"/>
<rect x="391" y="127" width="1" height="47" fill="#00ff00"/><rect x="390" y="131" width="3" height="35" fill="#00ff00"/>
<rect x="395" y="127" width="1" height="21" fill="#00ff00"/><rect x="394" y="132" width="3" height="3" fill="#00ff00"/>
<rect x="399" y="101" width="1" height="32" fill="#00ff00"/><rect x="398" y="102" width="3" height="30" fill="#00ff00"/>
<rect x="403" y="102" width="1" height="40" fill="#ff0000"/><rect x="402" y="102" width="3" height="22" fill="#ff0000"/>
<rect x="407" y="106" width="1" height="34" fill="#00ff00"/><rect x="406" y="110" width="3" height="13" fill="#00ff00"/>
<rect x="411" y="102" width="1" height="32" fill="#ff0000"/><rect x="410" y="110" width="3" height="18" fill="#ff0000"/>
<rect x="415" y="110" width="1" height="30" fill="#00ff00"/><rect x="414" y="111" width="3" height="23" fill="#00ff00"/>
<rect x="419" y="106" width="1" height="32" fill="#ff0000"/><rect x="418" y="111" width="3" height="15" fill="#ff0000"/>
<rect x="423" y="115" width="1" height="25" fill="#ff0000"/><rect x="422" y="126" width="3" height="7" fill="#ff0000"/>
<rect x="427" y="110" width="1" height="24" fill="#00ff00"/><rect x="426" y="115" width="3" height="18" fill="#00ff00"/>
<rect x="431" y="111" width="1" height="28" fill="#ff0000"/><rect x="430" y="114" width="3" height="18" fill="#ff0000"/>
<rect x="435" y="125" width="1" height="22" fill="#00ff00"/><rect x="434" y="131" width="3" height="16" fill="#00ff00"/>
<rect x="439" y="128" width="1" height="21" fill="#00ff00"/><rect x="438" y="132" width="3" height="1" fill="#00ff00"/>
<rect x="443" y="122" width="1" height="23" fill="#ff0000"/><rect x="442" y="131" width="3" height="9" fill="#ff0000"/>
<rect x="447" y="131" width="1" height="15" fill="#00ff00"/><rect x="446" y="133" width="3" height="8" fill="#00ff00"/>
<rect x="451" y="93" width="1" height="49" fill="#00ff00"/><rect x="450" y="95" width="3" height="39" fill="#00ff00"/>
<rect x="455" y="95" width="1" height="20" fill="#ff0000"/><rect x="454" y="97" width="3" height="11" fill="#ff0000"/>
<rect x="459" y="84" width="1" height="29" fill="#00ff00"/><rect x="458" y="88" width="3" height="20" fill="#00ff00"/>
<rect x="463" y="61" width="1" height="32" fill="#00ff00"/><rect x="462" y="64" width="3" height="25" fill="#00ff00"/>
<rect x="467" y="62" width="1" height="49" fill="#ff0000"/><rect x="466" y="64" width="3" height="34" fill="#ff0000"/>
<rect x="471" y="93" width="1" height="20" fill="#ff0000"/><rect x="470" y="96" width="3" height="8" fill="#ff0000"/>
<rect x="475" y="103" width="1" height="13" fill="#ff0000"/><rect x="474" y="109" width="3" height="2" fill="#ff0000"/>
<rect x="479" y="88" width="1" height="29" fill="#00ff00"/><rect x="478" y="93" width="3" height="19" fill="#00ff00"/>
<rect x="483" y="88" width="1" height="22" fill="#ff0000"/><rect x="482" y="93" width="3" height="11" fill="#ff0000"/>
<rect x="487" y="94" width="1" height="17" fill="#00ff00"/><rect x="486" y="99" width="3" height="5" fill="#00ff00"/>
<rect x="491" y="94" width="1" height="22" fill="#00ff00"/><rect x="490" y="98" width="3" height="3" fill="#00ff00"/>
<rect x="495" y="90" width="1" height="15" fill="#ff0000"/><rect x="494" y="96" width="3" height="8" fill="#ff0000"/>
<rect x="499" y="78" width="1" height="27" fill="#00ff00"/><rect x="498" y="99" width="3" height="5" fill="#00ff00"/>
<rect x="503" y="97" width="1" height="11" fill="#ff0000"/><rect x="502" y="100" width="3" height="1" fill="#ff0000"/>
<rect x="507" y="86" width="1" height="21" fill="#00ff00"/><rect x="506" y="88" width="3" height="15" fill="#00ff00"/>
<rect x="511" y="79" width="1" height="17" fill="#00ff00"/><rect x="510" y="83" width="3" height="7" fill="#00ff00"/>
<rect x="515" y="70" width="1" height="14" fill="#00ff00"/><rect x="514" y="71" width="3" height="11" fill="#00ff00"/>
<rect x="519" y="68" width="1" height="22" fill="#ff0000"/><rect x="518" y="71" width="3" height="11" fill="#ff0000"/>
<rect x="523" y="79" width="1" height="9" fill="#ff0000"/><rect x="522" y="81" width="3" height="2" fill="#ff0000"/>
<rect x="527" y="64" width="1" height="20" fill="#00ff00"/><rect x="526" y="71" width="3" height="12" fill="#00ff00"/>
<rect x="531" y="44" width="1" height="34" fill="#00ff00"/><rect x="530" y="56" width="3" height="16" fill="#00ff00"/>
<rect x="535" y="41" width="1" height="20" fill="#00ff00"/><rect x="534" y="46" width="3" height="10" fill="#00ff00"/>
<rect x="539" y="27" width="1" height="27" fill="#ff0000"/><rect x="538" y="46" width="3" height="2" fill="#ff0000"/>
<rect x="543" y="36" width="1" height="19" fill="#00ff00"/><rect x="542" y="39" width="3" height="9" fill="#00ff00"/>
<rect x="547" y="35" width="1" height="25" fill="#ff0000"/><rect x="546" y="39" width="3" height="6" fill="#ff0000"/>
<rect x="551" y="37" width="1" height="12" fill="#00ff00"/><rect x="550" y="41" width="3" height="4" fill="#00ff00"/>
<rect x="555" y="40" width="1" height="10" fill="#ff0000"/><rect x="554" y="41" width="3" height="1" fill="#ff0000"/>
<rect x="559" y="39" width="1" height="10" fill="#ff0000"/><rect x="558" y="42" width="3" height="2" fill="#ff0000"/>
<rect x="563" y="41" width="1" height="51" fill="#ff0000"/><rect x="562" y="42" width="3" height="28" fill="#ff0000"/>
<rect x="567" y="50" width="1" height="33" fill="#00ff00"/><rect x="566" y="56" width="3" height="14" fill="#00ff00"/>
<rect x="571" y="46" width="1" height="32" fill="#ff0000"/><rect x="570" y="56" width="3" height="19" fill="#ff0000"/>
<rect x="575" y="76" width="1" height="3" fill="#00ff00"/><rect x="574" y="77" width="3" height="2" fill="#00ff00"/>
</g>
<rect x="2" y="2" width="599" height="1" fill="#000"/>
<rect x="2" y="2" width="1" height="461" fill="#000"/>
<rect x="600" y="2" width="1" height="461" fill="#000"/>
<rect x="2" y="462" width="599" height="1" fill="#000"/>
<rect x="601" y="29" width="2" height="1" fill="#000"/>
<text x="606.6" y="32" textLength="27.4" lengthAdjust="spacingAndGlyphs" fill="#000" style="fill:#000;stroke:#000">121.90</text>
<rect x="601" y="63" width="2" height="1" fill="#000"/>
<text x="606.6" y="66" textLength="27.4" lengthAdjust="spacingAndGlyphs" fill="#000" style="fill:#000;stroke:#000">120.50</text>
<rect x="601" y="96" width="2" height="1" fill="#000"/>
<text x="606.6" y="99" textLength="27.4" lengthAdjust="spacingAndGlyphs" fill="#000" style="fill:#000;stroke:#000">119.10</text>
<rect x="601" y="129" width="2" height="1" fill="#000"/>
<text x="606.6" y="132" textLength="27.4" lengthAdjust="spacingAndGlyphs" fill="#000" style="fill:#000;stroke:#000">117.70</text>
<rect x="601" y="162" width="2" height="1" fill="#000"/>
<text x="606.6" y="165" textLength="27.4" lengthAdjust="spacingAndGlyphs" fill="#000" style="fill:#000;stroke:#000">116.30</text>
<rect x="601" y="195" width="2" height="1" fill="#000"/>
<text x="606.6" y="198" textLength="27.4" lengthAdjust="spacingAndGlyphs" fill="#000" style="fill:#000;stroke:#000">114.90</text>
<rect x="601" y="228" width="2" height="1" fill="#000"/>
<text x="606.6" y="231" textLength="27.4" lengthAdjust="spacingAndGlyphs" fill="#000" style="fill:#000;stroke:#000">113.50</text>
<rect x="601" y="261" width="2" height="1" fill="#000"/>
<text x="606.6" y="264" textLength="27.4" lengthAdjust="spacingAndGlyphs" fill="#000" style="fill:#000;stroke:#000">112.10</text>
<rect x="601" y="294" width="2" height="1" fill="#000"/>
<text x="606.6" y="297" textLength="27.4" lengthAdjust="spacingAndGlyphs" fill="#000" style="fill:#000;stroke:#000">110.70</text>
<rect x="601" y="327" width="2" height="1" fill="#000"/>
<text x="606.6" y="330" textLength="27.4" lengthAdjust="spacingAndGlyphs" fill="#000" style="fill:#000;stroke:#000">109.30</text>
<rect x="601" y="360" width="2" height="1" fill="#000"/>
<text x="606.6" y="363" textLength="27.4" lengthAdjust="spacingAndGlyphs" fill="#000" style="fill:#000;stroke:#000">107.90</text>
<rect x="601" y="393" width="2" height="1" fill="#000"/>
<text x="606.6" y="396" textLength="27.4" lengthAdjust="spacingAndGlyphs" fill="#000" style="fill:#000;stroke:#000">106.50</text>
<rect x="601" y="426" width="2" height="1" fill="#000"/>
<text x="606.6" y="429" textLength="27.4" lengthAdjust="spacingAndGlyphs" fill="#000" style="fill:#000;stroke:#000">105.10</text>
<rect x="601" y="459" width="2" height="1" fill="#000"/>
<text x="606.6" y="462" textLength="27.4" lengthAdjust="spacingAndGlyphs" fill="#000" style="fill:#000;stroke:#000">103.70</text>
<rect x="602" y="14" width="36" height="11" fill="#ff0000"/>
<text x="606.6" y="23" textLength="27.4" lengthAdjust="spacingAndGlyphs" fill="#fff" style="fill:#fff;stroke:#fff">122.32</text>
<rect x="602" y="71" width="36" height="11" fill="#000"/>
<text x="606.6" y="80" textLength="27.4" lengthAdjust="spacingAndGlyphs" fill="#fff" style="fill:#fff;stroke:#fff">119.87</text>
<rect x="602" y="95" width="36" height="11" fill="#0000ff"/>
<text x="606.6" y="104" textLength="27.4" lengthAdjust="spacingAndGlyphs" fill="#fff" style="fill:#fff;stroke:#fff">118.89</text>
<rect x="602" y="137" width="36" height="11" fill="#0000ff"/>
<text x="606.6" y="146" textLength="27.4" lengthAdjust="spacingAndGlyphs" fill="#fff" style="fill:#fff;stroke:#fff">117.08</text>
<rect x="602" y="173" width="36" height="11" fill="#ff0000"/>
<text x="606.6" y="182" textLength="27.4" lengthAdjust="spacingAndGlyphs" fill="#fff" style="fill:#fff;stroke:#fff">115.56</text>
<rect x="602" y="329" width="36" height="11" fill="#0000ff"/>
<text x="606.6" y="338" textLength="27.4" lengthAdjust="spacingAndGlyphs" fill="#fff" style="fill:#fff;stroke:#fff">108.94</text>
<rect x="602" y="390" width="36" height="11" fill="#0000ff"/>
<text x="606.6" y="399" textLength="27.4" lengthAdjust="spacingAndGlyphs" fill="#fff" style="fill:#fff;stroke:#fff">106.38</text>
<rect x="600" y="77" width="1" height="1" fill="#fff"/>
<rect x="3" y="463" width="1" height="3" fill="#000"/>
<text x="3" y="475" textLength="45.7" lengthAdjust="spacingAndGlyphs" fill="#000" style="fill:#000;stroke:#000">1 Sep 2014</text>
<rect x="67" y="463" width="1" height="3" fill="#000"/>
<text x="66.25" y="475" textLength="51.25" lengthAdjust="spacingAndGlyphs" fill="#000" style="fill:#000;stroke:#000">23 Sep 2014</text>
<rect x="131" y="463" width="1" height="3" fill="#000"/>
<text x="130.75" y="475" textLength="50" lengthAdjust="spacingAndGlyphs" fill="#000" style="fill:#000;stroke:#000">15 Oct 2014</text>
<rect x="195" y="463" width="1" height="3" fill="#000"/>
<text x="194.25" y="475" textLength="48.25" lengthAdjust="spacingAndGlyphs" fill="#000" style="fill:#000;stroke:#000">6 Nov 2014</text>
<rect x="259" y="463" width="1" height="3" fill="#000"/>
<text x="258.25" y="475" textLength="53" lengthAdjust="spacingAndGlyphs" fill="#000" style="fill:#000;stroke:#000">28 Nov 2014</text>
<rect x="323" y="463" width="1" height="3" fill="#000"/>
<text x="322.5" y="475" textLength="51.25" lengthAdjust="spacingAndGlyphs" fill="#000" style="fill:#000;stroke:#000">22 Dec 2014</text>
<rect x="387" y="463" width="1" height="3" fill="#000"/>
<text x="386.75" y="475" textLength="48.75" lengthAdjust="spacingAndGlyphs" fill="#000" style="fill:#000;stroke:#000">15 Jan 2015</text>
<rect x="451" y="463" width="1" height="3" fill="#000"/>
<text x="450.5" y="475" textLength="46.25" lengthAdjust="spacingAndGlyphs" fill="#000" style="fill:#000;stroke:#000">6 Feb 2015</text>
<rect x="515" y="463" width="1" height="3" fill="#000"/>
<text x="514.25" y="475" textLength="47" lengthAdjust="spacingAndGlyphs" fill="#000" style="fill:#000;stroke:#000">2 Mar 2015</text>
<path d="M6 9 L13 9 L9.5 13 Z" fill="#000" shape-rendering="auto"/>
<text x="18.5" y="14" textLength="61" lengthAdjust="spacingAndGlyphs" fill="#000" style="fill:#000;stroke:#000">USDJPY,Daily</text>
<text x="85.5" y="14" textLength="27.2" lengthAdjust="spacingAndGlyphs" fill="#000" style="fill:#000;stroke:#000">119.83</text>
<text x="117" y="14" textLength="27.2" lengthAdjust="spacingAndGlyphs" fill="#000" style="fill:#000;stroke:#000">119.91</text>
<text x="148.3" y="14" textLength="27.2" lengthAdjust="spacingAndGlyphs" fill="#000" style="fill:#000;stroke:#000">119.83</text>
<text x="179.6" y="14" textLength="27.2" lengthAdjust="spacingAndGlyphs" fill="#000" style="fill:#000;stroke:#000">119.87</text>
<text x="7.5" y="458" textLength="47.0" lengthAdjust="spacingAndGlyphs" fill="#000" style="fill:#000;stroke:#000">MetaTrader</text>
<text x="58" y="458" textLength="4.5" lengthAdjust="spacingAndGlyphs" fill="#000" style="fill:#000;stroke:#000">4</text>
<text x="66.25" y="458" textLength="3.0" lengthAdjust="spacingAndGlyphs" fill="#000" style="fill:#000;stroke:#000">-</text>
<text x="72.5" y="458" textLength="45.0" lengthAdjust="spacingAndGlyphs" fill="#000" style="fill:#000;stroke:#000">RoboForex,</text>
<text x="122" y="458" textLength="8" lengthAdjust="spacingAndGlyphs" fill="#000" style="fill:#000;stroke:#000">©</text>
<text x="133.75" y="458" textLength="43.25" lengthAdjust="spacingAndGlyphs" fill="#000" style="fill:#000;stroke:#000">2001-2014,</text>
<text x="182.5" y="458" textLength="50.0" lengthAdjust="spacingAndGlyphs" fill="#000" style="fill:#000;stroke:#000">MetaQuotes</text>
<text x="236.25" y="458" textLength="37.5" lengthAdjust="spacingAndGlyphs" fill="#000" style="fill:#000;stroke:#000">Software</text>
<text x="278" y="458" textLength="21.25" lengthAdjust="spacingAndGlyphs" fill="#000" style="fill:#000;stroke:#000">Corp.</text>
</svg>
</body></html>
